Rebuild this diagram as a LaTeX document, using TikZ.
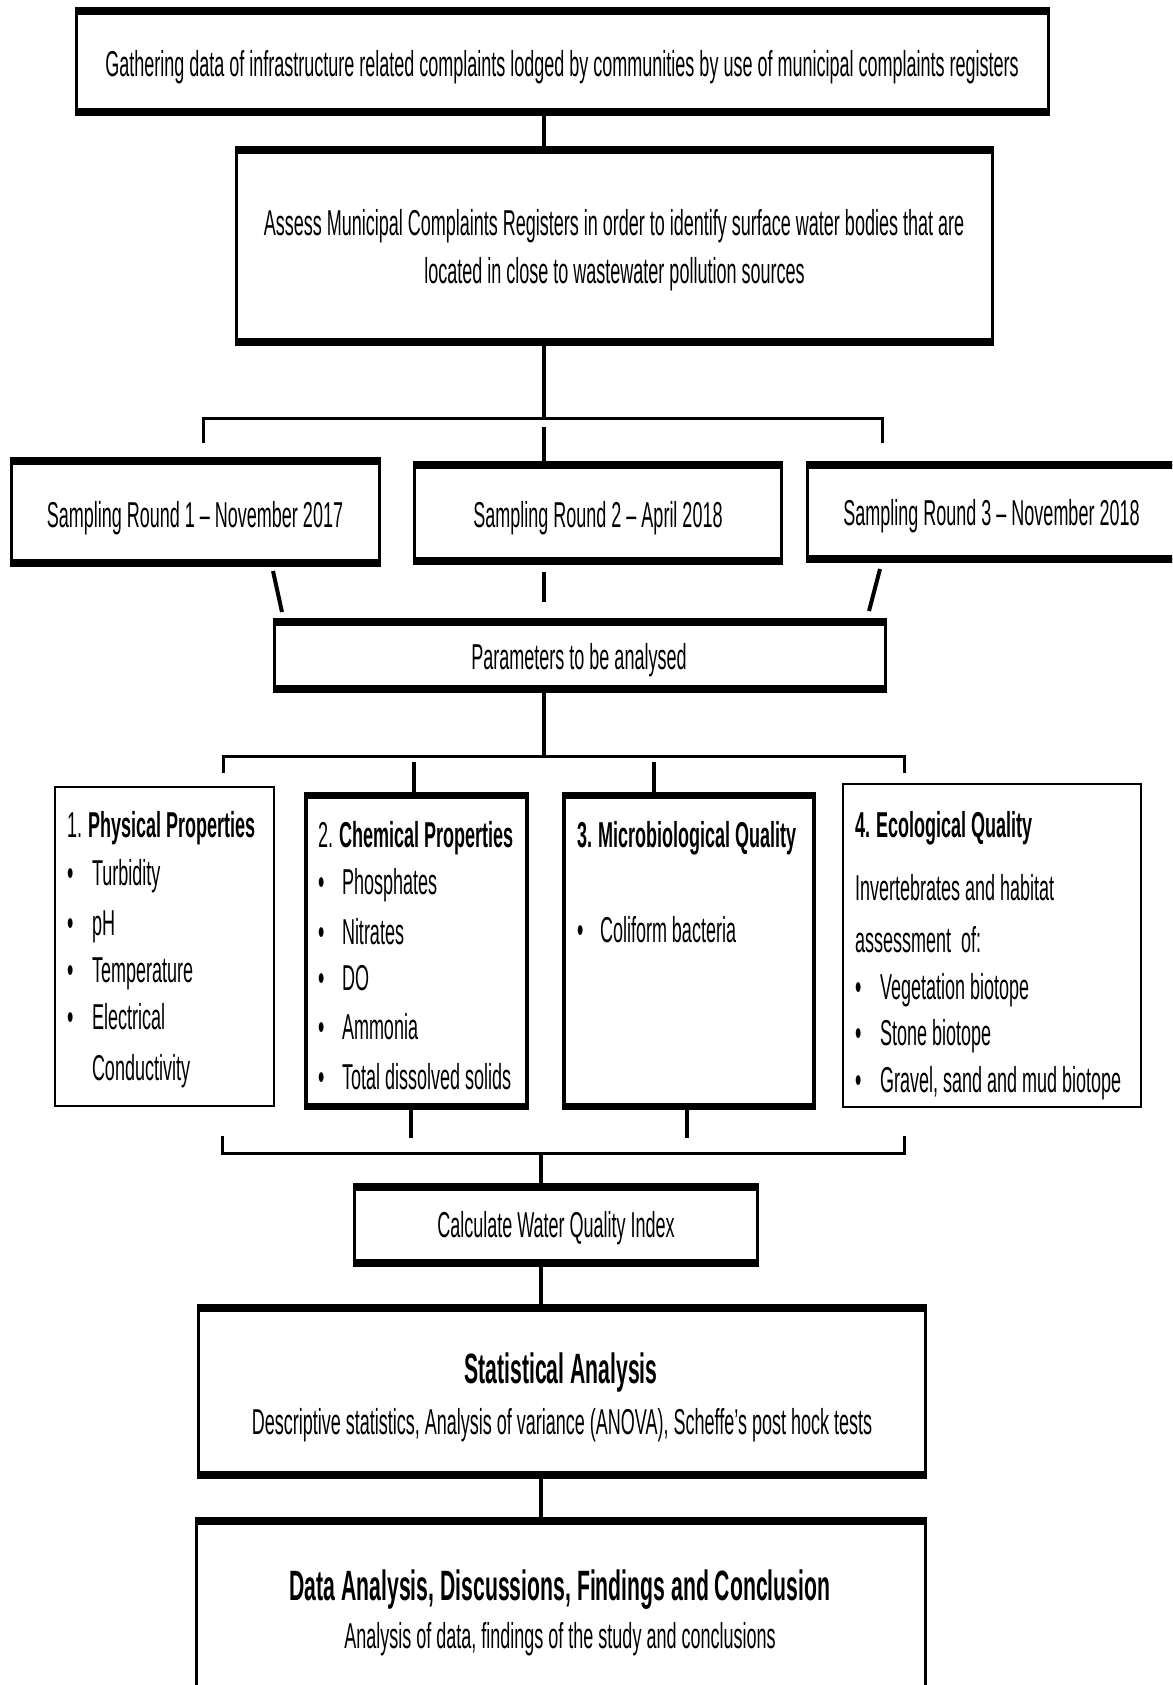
\documentclass[tikz,border=0pt]{standalone}
\usepackage{fontspec}
\setmainfont{Liberation Sans}[FakeStretch=0.5]
\newcommand\tbedges[3]{%
  \draw[line width=#1] ([xshift=-#2]#3.north west) -- ([xshift=#2]#3.north east);
  \draw[line width=#1] ([xshift=-#2]#3.south west) -- ([xshift=#2]#3.south east);}
\begin{document}
\begin{tikzpicture}[x=1pt,y=-1pt,
  box/.style={draw, line width=3pt, outer sep=0pt, inner sep=0pt},
  heavybox/.style={draw, line width=4pt, outer sep=0pt, inner sep=0pt},
  lightbox/.style={draw, line width=2pt, outer sep=0pt, inner sep=0pt},
  txt/.style={inner sep=0pt, outer sep=0pt, anchor=base},
  ltxt/.style={inner sep=0pt, outer sep=0pt, anchor=base west},
  conn/.style={line width=4pt},
  brk/.style={line width=3pt},
  fA/.style={font=\fontsize{36}{42}\selectfont},
  fB/.style={font=\fontsize{36}{42}\selectfont},
  fT/.style={font=\fontsize{42.4}{48}\selectfont\bfseries},
  fF/.style={font=\fontsize{42.4}{48}\selectfont\bfseries},
  fS/.style={font=\fontsize{36}{42}\selectfont}]
\useasboundingbox (0,0) rectangle (1172,1685);
\fill[white] (0,0) rectangle (1172,1685);
\clip (0,0) rectangle (1172,1685);

% ---- boxes ----
\node[box, minimum width=972, minimum height=101] (gather) at (562.5,61.5) {};
\node[box, minimum width=756, minimum height=192] (assess) at (614.5,246) {};
\node[box, minimum width=368, minimum height=102] (sr1) at (195.5,512) {};
\node[box, minimum width=367, minimum height=96] (sr2) at (598,513) {};
\node[box, minimum width=372.5, minimum height=94] (sr3) at (993.75,512) {};
\node[box, minimum width=611, minimum height=67] (params) at (580,655.5) {};
\node[lightbox, minimum width=219, minimum height=319] (phys) at (164.5,946.5) {};
\node[heavybox, minimum width=221, minimum height=311] (chem) at (416.5,951) {};
\node[heavybox, minimum width=250, minimum height=311] (micro) at (689,951) {};
\node[lightbox, minimum width=298, minimum height=323] (eco) at (992,945.5) {};
\node[box, minimum width=403, minimum height=76] (cwqi) at (556,1225) {};
\node[box, minimum width=727, minimum height=167] (stat) at (562,1391.5) {};
\node[box, minimum width=729, minimum height=179] (final) at (561,1610.5) {};

\foreach \b in {gather,assess,sr1,sr2,sr3,params,cwqi,stat,final}{\tbedges{8pt}{1.5pt}{\b}}
\foreach \b in {chem,micro}{\tbedges{7pt}{2pt}{\b}}

% ---- texts ----
\node[txt, fA] (t-gather) at (562,76.5) {Gathering data of infrastructure related complaints lodged by communities by use of municipal complaints registers};
\node[txt, fA] (t-assess1) at (614,236) {Assess Municipal Complaints Registers in order to identify surface water bodies that are};
\node[txt, fA] (t-assess2) at (614.5,284) {located in close to wastewater pollution sources};
\node[txt, fB] (t-sr1) at (195,527) {Sampling Round 1 -- November 2017};
\node[txt, fB] (t-sr2) at (598,527) {Sampling Round 2 -- April 2018};
\node[txt, fB] (t-sr3) at (991.5,525) {Sampling Round 3 -- November 2018};
\node[txt, fA] (t-params) at (579,669) {Parameters to be analysed};

% physical
\node[ltxt, fB] (p0) at (67,837) {1. \textbf{Physical Properties}};
\node[ltxt, fB] (p1b) at (67,885) {•};
\node[ltxt, fB] (p1) at (92,885) {Turbidity};
\node[ltxt, fB] (p2b) at (67,935) {•};
\node[ltxt, fB] (p2) at (92,935) {pH};
\node[ltxt, fB] (p3b) at (67,982) {•};
\node[ltxt, fB] (p3) at (92,982) {Temperature};
\node[ltxt, fB] (p4b) at (67,1029) {•};
\node[ltxt, fB] (p4) at (92,1029) {Electrical};
\node[ltxt, fB] (p5) at (92,1080) {Conductivity};

% chemical
\node[ltxt, fB] (c0) at (318,847) {2. \textbf{Chemical Properties}};
\node[ltxt, fB] (c1b) at (318,894) {•};
\node[ltxt, fB] (c1) at (342,894) {Phosphates};
\node[ltxt, fB] (c2b) at (318,944) {•};
\node[ltxt, fB] (c2) at (342,944) {Nitrates};
\node[ltxt, fB] (c3b) at (318,990) {•};
\node[ltxt, fB] (c3) at (342,990) {DO};
\node[ltxt, fB] (c4b) at (318,1039) {•};
\node[ltxt, fB] (c4) at (342,1039) {Ammonia};
\node[ltxt, fB] (c5b) at (318,1089) {•};
\node[ltxt, fB] (c5) at (342,1089) {Total dissolved solids};

% micro
\node[ltxt, fB] (m0) at (577,847) {\textbf{3. Microbiological Quality}};
\node[ltxt, fB] (m1b) at (577,942) {•};
\node[ltxt, fB] (m1) at (600,942) {Coliform bacteria};

% ecological
\node[ltxt, fB] (e0) at (855,837) {\textbf{4. Ecological Quality}};
\node[ltxt, fB] (e1) at (855,900) {Invertebrates and habitat};
\node[ltxt, fB] (e2) at (855,952) {assessment\ \ of:};
\node[ltxt, fB] (e3b) at (855,999) {•};
\node[ltxt, fB] (e3) at (880,999) {Vegetation biotope};
\node[ltxt, fB] (e4b) at (855,1045) {•};
\node[ltxt, fB] (e4) at (880,1045) {Stone biotope};
\node[ltxt, fB] (e5b) at (855,1092) {•};
\node[ltxt, fB] (e5) at (880,1092) {Gravel, sand and mud biotope};

\node[txt, fB] (t-cwqi) at (556,1237) {Calculate Water Quality Index};
\node[txt, fT] (t-stat1) at (561,1383) {Statistical Analysis};
\node[txt, fS] (t-stat2) at (562,1434) {Descriptive statistics, Analysis of variance (ANOVA), Scheffe’s post hock tests};
\node[txt, fF] (t-fin1) at (560,1600) {Data Analysis, Discussions, Findings and Conclusion};
\node[txt, fS] (t-fin2) at (560,1648) {Analysis of data, findings of the study and conclusions};

% ---- connectors ----
\coordinate (spine) at (544,0);
\coordinate (b1L) at (203,418);
\coordinate (b1R) at (882,418);
\coordinate (b1Lt) at (203,443);
\coordinate (b1Rt) at (882,443);
\coordinate (g1) at (544,427);
\coordinate (s1a) at (273,571);
\coordinate (s1b) at (282,612);
\coordinate (s2a) at (544,572);
\coordinate (s2b) at (544,602);
\coordinate (s3a) at (880,569);
\coordinate (s3b) at (869,611);
\coordinate (b2L) at (223,756);
\coordinate (b2R) at (904,756);
\coordinate (b2Lt) at (223,773);
\coordinate (b2Rt) at (904,773);
\coordinate (cc) at (414,762);
\coordinate (mc) at (654,762);
\coordinate (cd) at (411,1138);
\coordinate (md) at (687,1138);
\coordinate (b3L) at (222,1153);
\coordinate (b3R) at (904,1153);
\coordinate (b3Lt) at (222,1136);
\coordinate (b3Rt) at (904,1136);
\coordinate (low) at (541,0);

\draw[conn] (gather.south -| spine) -- (assess.north -| spine);
\draw[conn] (assess.south -| spine) -- (b1L -| spine);
\draw[brk] (b1Lt) -- (b1L) -- (b1R) -- (b1Rt);
\draw[conn] (g1) -- (sr2.north -| g1);
\draw[conn] (s1a) -- (s1b);
\draw[conn] (s2a) -- (s2b);
\draw[conn] (s3a) -- (s3b);
\draw[conn] (params.south -| spine) -- (b2L -| spine);
\draw[brk] (b2Lt) -- (b2L) -- (b2R) -- (b2Rt);
\draw[conn] (cc) -- (chem.north -| cc);
\draw[conn] (mc) -- (micro.north -| mc);
\draw[conn] (chem.south -| cd) -- (cd);
\draw[conn] (micro.south -| md) -- (md);
\draw[brk] (b3Lt) -- (b3L) -- (b3R) -- (b3Rt);
\draw[conn] (b3L -| low) -- (cwqi.north -| low);
\draw[conn] (cwqi.south -| low) -- (stat.north -| low);
\draw[conn] (stat.south -| low) -- (final.north -| low);
\end{tikzpicture}
\end{document}
